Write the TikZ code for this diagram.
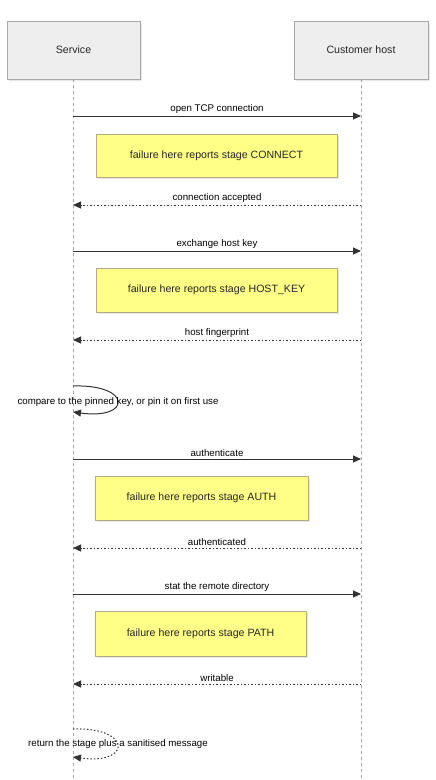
\documentclass[tikz,border=0pt]{standalone}
\usepackage{fontspec}
\setmainfont{Liberation Sans}
\usetikzlibrary{arrows.meta,shadows}
\definecolor{actorfill}{HTML}{EEEEEE}
\definecolor{actorline}{HTML}{A8A8A8}
\definecolor{notafill}{HTML}{FFFF88}
\definecolor{notaline}{HTML}{B4AC84}
\definecolor{msgline}{HTML}{333333}
\newcommand{\fuente}{\fontsize{10.6}{12}\selectfont}
\newcommand{\fuentemsg}{\fontsize{9.7}{11}\selectfont}
\begin{document}
\begin{tikzpicture}[x=1pt,y=-1pt,
    actor/.style={draw=actorline,fill=actorfill,line width=1pt,minimum height=58pt,font=\fuente,text=black!85,
      drop shadow={shadow xshift=1.5pt,shadow yshift=-1.5pt,opacity=0.2}},
    nota/.style={draw=notaline,fill=notafill,line width=1pt,font=\fuente,text=black!85,
      drop shadow={shadow xshift=1.5pt,shadow yshift=-1.5pt,opacity=0.2}},
    vida/.style={draw=black!35,line width=0.6pt,dash pattern=on 3pt off 3pt},
    msg/.style={draw=msgline,line width=1pt,-{Triangle[length=8pt,width=7pt]}},
    resp/.style={msg,dash pattern=on 1.5pt off 2pt},
    etiq/.style={font=\fuentemsg,inner sep=0pt,above=2pt,text=black}]
    \useasboundingbox (0,0) rectangle (436,780);
    %lineas de vida
    \coordinate (svcfin) at (73,780);
    \coordinate (hostfin) at (361,780);
    \coordinate (svctop) at (73,79);
    \coordinate (hosttop) at (361,79);
    \draw[vida] (svctop) -- (svcfin);
    \draw[vida] (hosttop) -- (hostfin);
    %%%% ACTORES
    \node[actor,minimum width=133pt] at (73.5,50) (svc) {Service};
    \node[actor,minimum width=134pt] at (361,50) (host) {Customer host};
    %puntos de los mensajes
    \foreach \n/\y in {1/116,2/205,3/251,4/340,5/459,6/548,7/594,8/684}{
      \coordinate (s\n) at (73,\y);
      \coordinate (h\n) at (361,\y);
    }
    %%%NOTAS
    \node[nota,minimum width=241pt,minimum height=43pt] at (216.5,155.5) (connect) {failure here reports stage CONNECT};
    \node[nota,minimum width=241pt,minimum height=44pt] at (216.5,290) (hostkey) {failure here reports stage HOST\_KEY};
    \node[nota,minimum width=213pt,minimum height=44pt] at (201.5,498) (auth) {failure here reports stage AUTH};
    \node[nota,minimum width=211pt,minimum height=45pt] at (200.5,633.5) (path) {failure here reports stage PATH};
    %mensajes
    \draw[msg] (s1) -- node[etiq] {open TCP connection} (h1);
    \draw[resp] (h2) -- node[etiq] {connection accepted} (s2);
    \draw[msg] (s3) -- node[etiq] {exchange host key} (h3);
    \draw[resp] (h4) -- node[etiq] {host fingerprint} (s4);
    \draw[msg] (s5) -- node[etiq] {authenticate} (h5);
    \draw[resp] (h6) -- node[etiq] {authenticated} (s6);
    \draw[msg] (s7) -- node[etiq] {stat the remote directory} (h7);
    \draw[resp] (h8) -- node[etiq] {writable} (s8);
    %lazos
    \coordinate (lazoa) at (73,386);
    \coordinate (lazob) at (73,412);
    \draw[msg] (lazoa) .. controls +(59,-2) and +(59,8) .. (lazob);
    \node[font=\fuentemsg,inner sep=0pt] at (118,401.5) (pin) {compare to the pinned key, or pin it on first use};
    \coordinate (lazoc) at (73,729);
    \coordinate (lazod) at (73,757);
    \draw[resp] (lazoc) .. controls +(59,-2) and +(59,8) .. (lazod);
    \node[font=\fuentemsg,inner sep=0pt] at (118,744) (stage) {return the stage plus a sanitised message};
\end{tikzpicture}
\end{document}
